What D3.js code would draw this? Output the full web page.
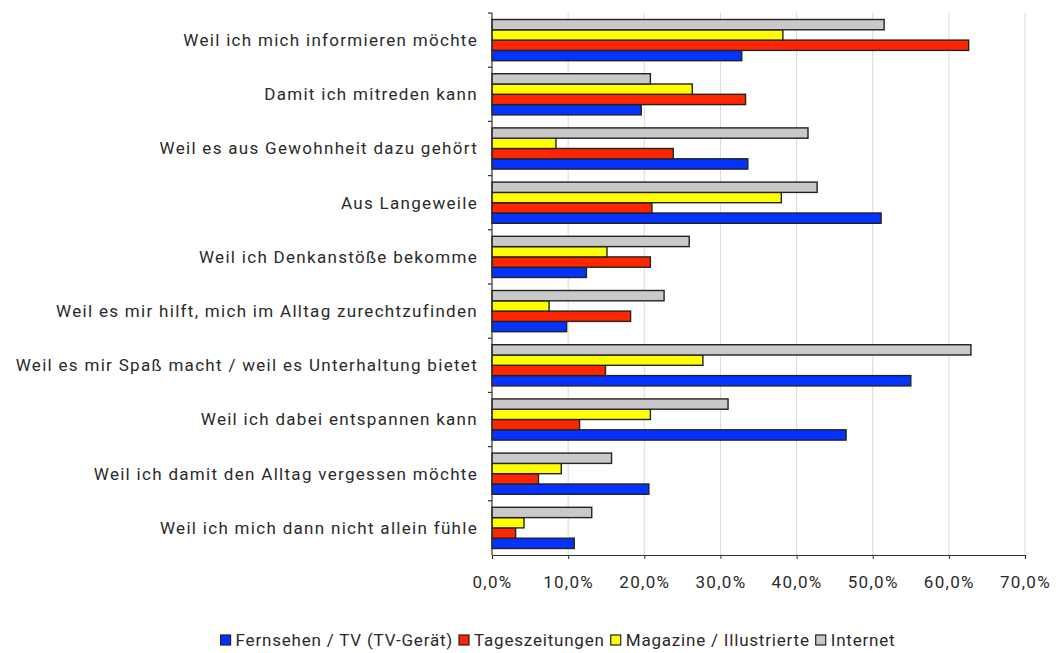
<!DOCTYPE html>
<html>
<head>
<meta charset="utf-8">
<script src="https://cdn.jsdelivr.net/npm/d3@7"></script>
<style>
  body { margin: 0; background: #fff; }
  text { font-family: Roboto, "DejaVu Sans", sans-serif; fill: #2a2a2a; letter-spacing: 1.3px; }
</style>
</head>
<body>
<div id="chart"></div>
<script>
// categories, top to bottom
const categories = [
  "Weil ich mich informieren möchte",
  "Damit ich mitreden kann",
  "Weil es aus Gewohnheit dazu gehört",
  "Aus Langeweile",
  "Weil ich Denkanstöße bekomme",
  "Weil es mir hilft, mich im Alltag zurechtzufinden",
  "Weil es mir Spaß macht / weil es Unterhaltung bietet",
  "Weil ich dabei entspannen kann",
  "Weil ich damit den Alltag vergessen möchte",
  "Weil ich mich dann nicht allein fühle"
]
const seriesNames = ["Fernsehen / TV (TV-Gerät)", "Tageszeitungen", "Magazine / Illustrierte", "Internet"]
const colors = ["#0433ff", "#ff2600", "#ffff00", "#c9c9c9"]

// values in percent
const fernsehen = [32.8, 19.6, 33.6, 51.1, 12.4, 9.8, 55.0, 46.5, 20.6, 10.8]
const zeitungen = [62.6, 33.3, 23.8, 21.0, 20.8, 18.2, 14.9, 11.5, 6.1, 3.1]
const magazine  = [38.2, 26.3, 8.4, 38.0, 15.1, 7.5, 27.7, 20.8, 9.1, 4.2]
const internet  = [51.5, 20.8, 41.5, 42.7, 25.9, 22.6, 62.9, 31.0, 15.7, 13.1]
const xTicks = [0, 10, 20, 30, 40, 50, 60, 70]

const allSeries = [fernsehen, zeitungen, magazine, internet]

const W = 1061, H = 653
const margin = { top: 13, right: 36, bottom: 98, left: 492 }
const width = W - margin.left - margin.right
const height = H - margin.top - margin.bottom
const fontSize = 17

const svg = d3.select("#chart").append("svg")
    .attr("width", W)
    .attr("height", H)
const g = svg.append("g")
    .attr("transform", "translate(" + margin.left + "," + margin.top + ")")

const x = d3.scaleLinear().domain([0, 70]).range([0, width])
const y = d3.scaleBand().domain(categories).range([0, height]).paddingInner(0.24).paddingOuter(0.12)
// order inside a group: Internet on top, Fernsehen at bottom
const ySub = d3.scaleBand().domain([3, 2, 1, 0]).range([0, y.bandwidth()])

// gridlines
g.append("g")
  .selectAll("line")
  .data(xTicks.slice(1))
  .join("line")
    .attr("x1", d => x(d)).attr("x2", d => x(d))
    .attr("y1", 0).attr("y2", height)
    .attr("stroke", "#d9d9d9")
    .attr("stroke-width", 1)

// bars
const rows = []
categories.forEach((c, i) => {
  allSeries.forEach((s, k) => rows.push({ cat: c, k: k, v: s[i] }))
})
g.append("g")
  .selectAll("rect")
  .data(rows)
  .join("rect")
    .attr("x", x(0))
    .attr("y", d => y(d.cat) + ySub(d.k))
    .attr("width", d => x(d.v) - x(0))
    .attr("height", ySub.bandwidth())
    .attr("fill", d => colors[d.k])
    .attr("stroke", "#222")
    .attr("stroke-width", 1.4)

// y axis with ticks at band boundaries
const step = height / categories.length
g.append("line")
  .attr("x1", 0).attr("x2", 0).attr("y1", 0).attr("y2", height)
  .attr("stroke", "#333").attr("stroke-width", 1.2)
g.append("g")
  .selectAll("line")
  .data(d3.range(categories.length))
  .join("line")
    .attr("x1", -4).attr("x2", 0)
    .attr("y1", d => d * step).attr("y2", d => d * step)
    .attr("stroke", "#333").attr("stroke-width", 1.2)
g.append("g")
  .selectAll("text")
  .data(categories)
  .join("text")
    .attr("x", -14)
    .attr("y", d => y(d) + y.bandwidth() / 2)
    .attr("dy", "0.35em")
    .attr("text-anchor", "end")
    .attr("font-size", fontSize)
    .text(d => d)

// x axis
const xAxis = g.append("g")
  .attr("transform", "translate(0," + height + ")")
  .call(d3.axisBottom(x)
    .tickValues(xTicks)
    .tickSize(4)
    .tickPadding(17)
    .tickFormat(d => d3.format(".1f")(d).replace(".", ",") + "%"))
xAxis.select(".domain").attr("stroke", "#333").attr("stroke-width", 1.2)
xAxis.selectAll(".tick line").attr("stroke", "#333")
xAxis.selectAll("text")
  .attr("font-size", fontSize)
  .attr("font-family", "Roboto, 'DejaVu Sans', sans-serif")
  .attr("fill", "#2a2a2a")

// legend
const legend = svg.append("g")
const items = legend.selectAll("g")
  .data(seriesNames)
  .join("g")
let lx = 0
items.each(function(d, i) {
  const it = d3.select(this)
  it.append("rect")
    .attr("x", 0).attr("y", -5)
    .attr("width", 10).attr("height", 10)
    .attr("fill", colors[i])
    .attr("stroke", "#222").attr("stroke-width", 1.2)
  const t = it.append("text")
    .attr("x", 15).attr("dy", "0.35em")
    .attr("font-size", fontSize)
    .style("letter-spacing", "0.8px")
    .text(d)
  it.attr("transform", "translate(" + lx + ",0)")
  lx += 15 + t.node().getComputedTextLength() + 6
})
legend.attr("transform", "translate(" + (558 - (lx - 6) / 2) + ",640)")
</script>
</body>
</html>
